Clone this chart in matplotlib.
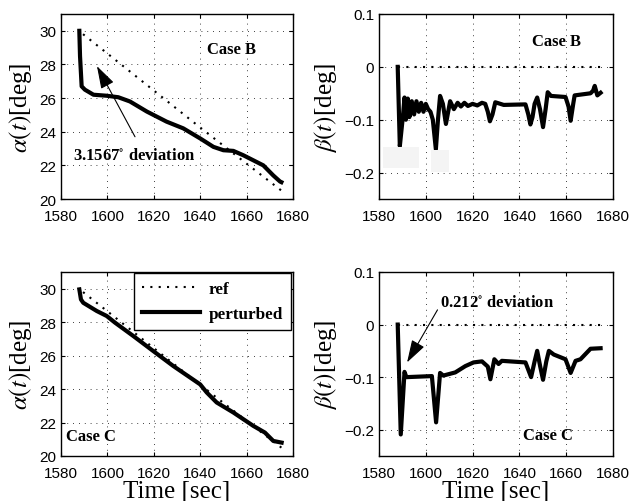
import numpy as np
import matplotlib
matplotlib.use("Agg")
import matplotlib.pyplot as plt
from matplotlib.patches import Rectangle

plt.rcParams['font.family'] = ['Liberation Sans', 'DejaVu Sans']
plt.rcParams['mathtext.fontset'] = 'stix'

# reference alpha (same in both cases)
t_ref = [1589.5, 1600, 1620, 1640, 1660, 1675]
alpha_ref = [29.8, 28.65, 26.45, 24.25, 22.1, 20.5]

# case B perturbed alpha
t_aB = [1587.9, 1588.2, 1588.9, 1590.3, 1594, 1599.7, 1604.7, 1609.7, 1617, 1625.5,
        1632.7, 1640, 1645.7, 1650, 1654.3, 1658.6, 1667.2, 1671.5, 1674.4, 1675]
alpha_B = [30.0, 28.5, 26.7, 26.5, 26.2, 26.14, 26.05, 25.8, 25.2, 24.6,
           24.2, 23.6, 23.1, 22.9, 22.86, 22.6, 22.0, 21.4, 21.04, 21.0]

# case C perturbed alpha
t_aC = [1587.9, 1588.6, 1589.6, 1595.4, 1599.7, 1603.3, 1611.2, 1619.8, 1628.4, 1640,
        1642.8, 1647.1, 1654.3, 1662.9, 1667.9, 1671.5, 1675.1]
alpha_C = [29.96, 29.36, 29.16, 28.67, 28.37, 27.97, 27.17, 26.27, 25.38, 24.28,
           23.8, 23.2, 22.6, 21.8, 21.4, 20.9, 20.8]

# beta reference
t_bref = [1588, 1675]
beta_ref = [0, 0]

# case B perturbed beta
t_bB = [1588.0, 1588.9, 1590.3, 1590.9, 1591.5, 1592.3, 1593, 1594, 1595, 1596, 1597, 1598,
        1599, 1600, 1601, 1602, 1603, 1604.3, 1605.2, 1606.1, 1607.3, 1608.6, 1610.4, 1612,
        1613.6, 1615, 1616.5, 1618, 1620, 1622, 1624, 1625.4, 1626.5, 1627.4, 1628.5, 1629.7,
        1633.3, 1642.6, 1643.8, 1644.7, 1645.6, 1646.5, 1647.6, 1648.8, 1650.1, 1651.2, 1652.1,
        1653.5, 1659.7, 1661.0, 1661.9, 1663.0, 1663.6, 1670.4, 1671.5, 1672.2, 1673.3, 1674.7]
beta_B = [0.0, -0.15, -0.09, -0.058, -0.1, -0.06, -0.095, -0.065, -0.09, -0.065, -0.085, -0.068,
          -0.085, -0.07, -0.08, -0.085, -0.1, -0.156, -0.1, -0.055, -0.07, -0.108, -0.065, -0.08,
          -0.068, -0.075, -0.068, -0.074, -0.07, -0.073, -0.068, -0.07, -0.085, -0.103, -0.09,
          -0.067, -0.072, -0.071, -0.09, -0.109, -0.095, -0.07, -0.058, -0.08, -0.114, -0.08,
          -0.048, -0.055, -0.057, -0.075, -0.102, -0.07, -0.054, -0.05, -0.045, -0.036, -0.054,
          -0.049]

# case C perturbed beta
t_bC = [1588.0, 1589.3, 1590.9, 1591.7, 1602.6, 1604.4, 1606.1, 1607.5, 1612.6, 1616.9,
        1620.4, 1624, 1626.5, 1627.6, 1629.3, 1631.1, 1632.5, 1642.6, 1645, 1646.5, 1647.6,
        1648.9, 1650.1, 1651.5, 1652.6, 1654.7, 1659.7, 1661.9, 1664, 1666.1, 1670.4, 1674.7]
beta_C = [0.0, -0.209, -0.09, -0.1, -0.098, -0.186, -0.092, -0.097, -0.091, -0.079,
          -0.072, -0.07, -0.08, -0.104, -0.066, -0.075, -0.069, -0.072, -0.1, -0.07, -0.05,
          -0.08, -0.105, -0.07, -0.05, -0.057, -0.066, -0.092, -0.069, -0.066, -0.046, -0.045]

xticks = [1580, 1600, 1620, 1640, 1660, 1680]
a_ticks = [20, 22, 24, 26, 28, 30]
b_ticks = [-0.2, -0.1, 0, 0.1]
b_labels = ['\u22120.2', '\u22120.1', '0', '0.1']

W, H = 631, 502
fig = plt.figure(figsize=(W / 100, H / 100), dpi=100)

def px_axes(l, t, r, b):
    return fig.add_axes([l / W, 1 - b / H, (r - l) / W, (b - t) / H])

ax1 = px_axes(61, 15, 293, 200)
ax2 = px_axes(379, 15, 613, 200)
ax3 = px_axes(61, 273, 293, 457)
ax4 = px_axes(379, 273, 613, 457)

ref_style = dict(color='k', lw=1.5, ls=(0, (1, 3)))
pert_style = dict(color='k', lw=3.0, solid_joinstyle='round')
lab_font = dict(family=['Liberation Serif'], size=18)
case_font = dict(family=['Liberation Serif'], size=12, weight='bold')
arrow = dict(arrowstyle='-|>,head_length=0.7,head_width=0.22', color='k', lw=0.8,
             mutation_scale=20, shrinkA=0, shrinkB=0)

for ax in (ax1, ax2, ax3, ax4):
    ax.set_xlim(1580, 1680)
    ax.set_xticks(xticks)
    ax.grid(True, color='k', lw=0.6, ls=(0, (1, 6)))
    ax.tick_params(direction='in', length=3, labelsize=11, top=True, right=True)
    ax.tick_params(axis='x', pad=7)
    for s in ax.spines.values():
        s.set_linewidth(1.0)

for ax in (ax1, ax3):
    ax.set_ylim(20, 31)
    ax.set_yticks(a_ticks)
    ax.set_ylabel(r'$\alpha(t)$[deg]', labelpad=4, **lab_font)

for ax in (ax2, ax4):
    ax.set_ylim(-0.25, 0.1)
    ax.set_yticks(b_ticks)
    ax.set_yticklabels(b_labels)
    ax.set_ylabel(r'$\beta(t)$[deg]', labelpad=4, **lab_font)

for ax in (ax3, ax4):
    ax.set_xlabel('Time [sec]', labelpad=0, **lab_font)

# Case B alpha
ax1.plot(t_ref, alpha_ref, **ref_style)
ax1.plot(t_aB, alpha_B, **pert_style)
ax1.text(1653.5, 28.9, 'Case B', ha='center', va='center', **case_font)
ax1.annotate('', xy=(1595.5, 27.9), xytext=(1611.9, 23.7), arrowprops=arrow)
ax1.text(1585.2, 22.6, r'3.1567$^{\circ}$ deviation', ha='left', va='center', **case_font)

# Case B beta
ax2.plot(t_bref, beta_ref, **ref_style)
ax2.plot(t_bB, beta_B, **pert_style)
ax2.text(1656, 0.048, 'Case B', ha='center', va='center', **case_font)
ax2.add_patch(Rectangle((1581.7, -0.192), 15.4, 0.040, color='#f4f4f4', zorder=5, lw=0))
ax2.add_patch(Rectangle((1602.2, -0.198), 7.7, 0.040, color='#f4f4f4', zorder=5, lw=0))

# Case C alpha
ax3.plot(t_ref, alpha_ref, label='ref', **ref_style)
ax3.plot(t_aC, alpha_C, label='perturbed', **pert_style)
ax3.text(1582.2, 21.17, 'Case C', ha='left', va='center', **case_font)
leg = ax3.legend(loc='upper right', bbox_to_anchor=(0.99, 0.995), borderaxespad=0,
                 fancybox=False, edgecolor='k', framealpha=1, handlelength=3.4,
                 borderpad=0.45, labelspacing=0.55, handletextpad=0.5,
                 prop=dict(family=['Liberation Serif'], size=12.3, weight='bold'))
leg.get_frame().set_linewidth(1.0)

# Case C beta
ax4.plot(t_bref, beta_ref, **ref_style)
ax4.plot(t_bC, beta_C, **pert_style)
ax4.text(1652.2, -0.21, 'Case C', ha='center', va='center', **case_font)
ax4.annotate('', xy=(1592, -0.072), xytext=(1605, 0.028), arrowprops=arrow)
ax4.text(1630.6, 0.043, r'0.212$^{\circ}$ deviation', ha='center', va='center', **case_font)

fig.savefig('out.png', dpi=100)
